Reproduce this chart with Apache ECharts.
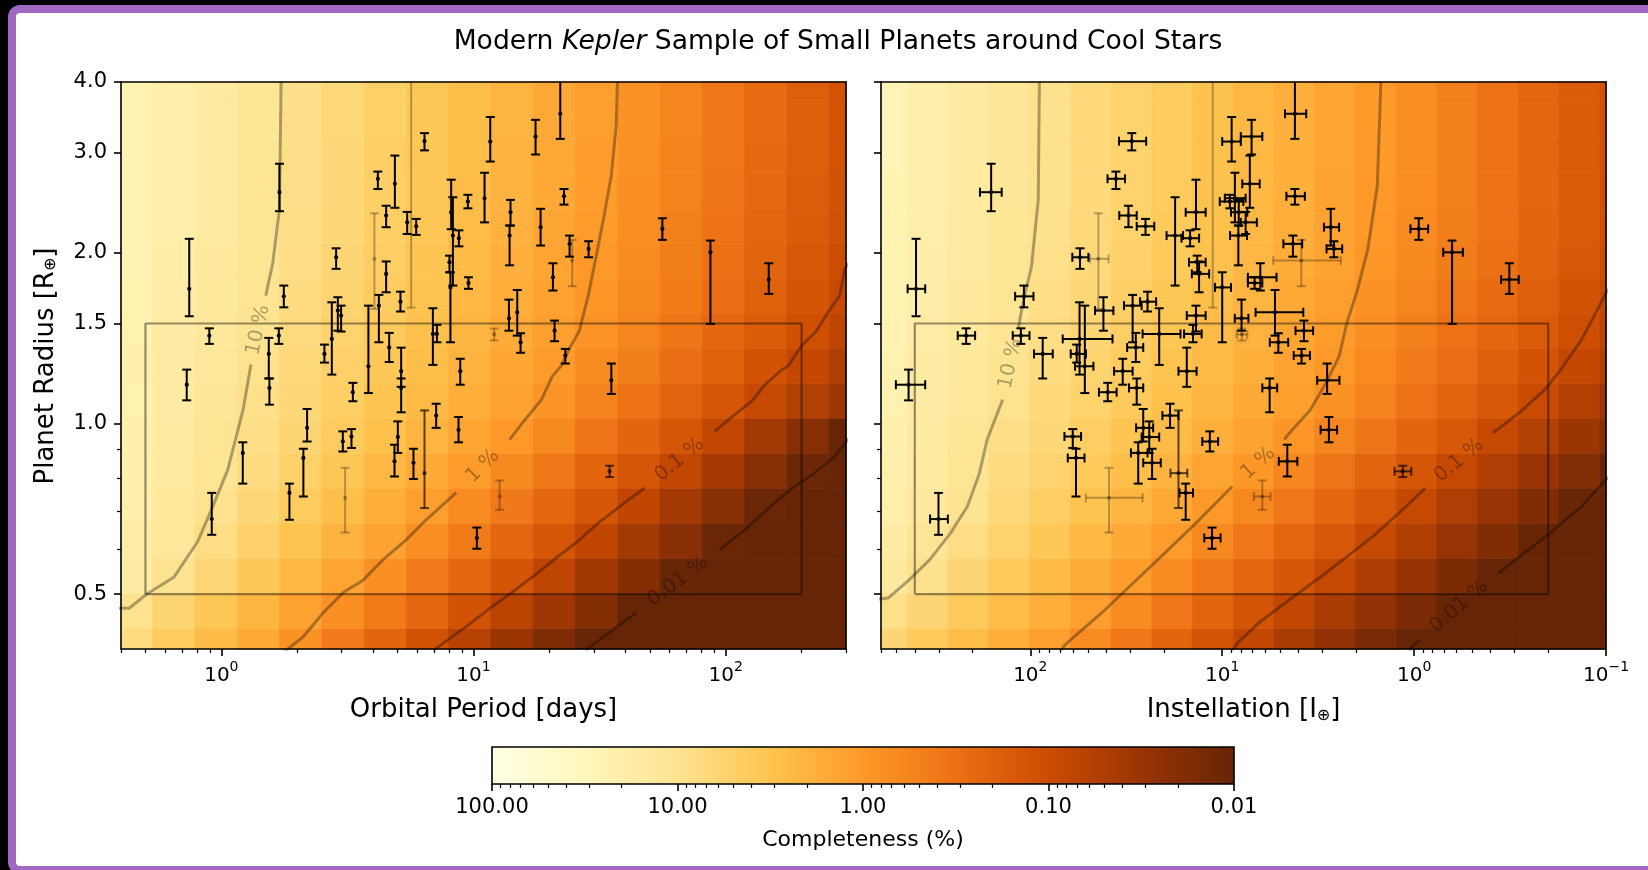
<!DOCTYPE html>
<html>
<head>
<meta charset="utf-8">
<script src="https://cdn.jsdelivr.net/npm/echarts@6.0.0/dist/echarts.min.js"></script>
<style>
html,body{margin:0;padding:0;width:1648px;height:870px;overflow:hidden;background:#000;}
#frame{position:absolute;left:8px;top:5px;width:1720px;height:853px;border:8px solid #a067c3;border-radius:12px;background:#fff;}
#chart{position:absolute;left:0;top:0;width:1648px;height:870px;}
</style>
</head>
<body>
<div id="frame"></div>
<div id="chart"></div>
<script>
// ===================== DATA =====================
// completeness grid bin edges
const periodEdges = [0.3635,0.5342,0.7858,1.1563,1.7014,2.5023,3.682,5.4162,7.9688,11.722,17.249,25.373,37.325,54.925,80.79,118.85,174.8,257.2,378.4];
const radiusEdges = [0.3776,0.4353,0.5018,0.5784,0.6667,0.7685,0.8859,1.0211,1.1771,1.3568,1.564,1.8028,2.0781,2.3954,2.7612,3.1829,3.6689,4.2292];
const instellationEdges = [711,436.5,268,164.4,100.7,61.8,37.9,23.3,14.29,8.75,5.37,3.30,2.023,1.239,0.760,0.467,0.286,0.176,0.1076,0.066];

// log10(completeness %) per cell, rows = radius bins (bottom -> top), cols = period bins
const completenessPeriod = [
 [0.87,0.64,0.40,0.17,-0.08,-0.36,-0.64,-0.92,-1.20,-1.48,-1.76,-2,-2,-2,-2,-2,-2,-2],
 [0.98,0.77,0.55,0.34,0.12,-0.11,-0.37,-0.63,-0.90,-1.17,-1.44,-1.72,-2,-2,-2,-2,-2,-2],
 [1.22,1.00,0.79,0.57,0.35,0.13,-0.11,-0.36,-0.61,-0.87,-1.14,-1.42,-1.70,-1.98,-2,-2,-2,-2],
 [1.26,1.10,0.91,0.71,0.50,0.30,0.10,-0.13,-0.37,-0.62,-0.86,-1.12,-1.40,-1.67,-1.95,-2,-2,-2],
 [1.29,1.14,0.99,0.80,0.61,0.43,0.24,0.06,-0.16,-0.39,-0.63,-0.86,-1.12,-1.40,-1.68,-1.96,-2,-2],
 [1.32,1.18,1.04,0.88,0.71,0.54,0.37,0.20,0.03,-0.19,-0.41,-0.64,-0.86,-1.11,-1.39,-1.66,-1.94,-2],
 [1.33,1.20,1.06,0.92,0.77,0.61,0.46,0.31,0.15,0.00,-0.21,-0.43,-0.64,-0.86,-1.10,-1.40,-1.69,-1.99],
 [1.34,1.21,1.08,0.95,0.81,0.67,0.52,0.38,0.24,0.10,-0.05,-0.26,-0.46,-0.66,-0.86,-1.06,-1.26,-1.46],
 [1.33,1.21,1.10,0.98,0.84,0.70,0.57,0.43,0.29,0.16,0.02,-0.16,-0.34,-0.53,-0.71,-0.90,-1.08,-1.27],
 [1.35,1.23,1.12,1.00,0.87,0.73,0.60,0.47,0.34,0.21,0.08,-0.07,-0.25,-0.43,-0.61,-0.78,-0.96,-1.14],
 [1.37,1.25,1.14,1.02,0.89,0.76,0.63,0.50,0.37,0.24,0.11,-0.03,-0.20,-0.37,-0.54,-0.71,-0.88,-1.04],
 [1.39,1.27,1.16,1.04,0.91,0.78,0.65,0.52,0.39,0.26,0.13,-0.01,-0.17,-0.34,-0.50,-0.67,-0.84,-1.00],
 [1.40,1.29,1.17,1.05,0.93,0.80,0.67,0.54,0.41,0.28,0.15,0.02,-0.14,-0.30,-0.46,-0.62,-0.78,-0.94],
 [1.41,1.29,1.18,1.06,0.94,0.81,0.68,0.55,0.42,0.29,0.17,0.04,-0.12,-0.28,-0.44,-0.60,-0.76,-0.92],
 [1.41,1.29,1.18,1.06,0.94,0.81,0.68,0.56,0.43,0.30,0.18,0.05,-0.10,-0.26,-0.42,-0.58,-0.74,-0.90],
 [1.41,1.30,1.18,1.07,0.94,0.82,0.69,0.56,0.44,0.31,0.19,0.06,-0.09,-0.25,-0.41,-0.57,-0.74,-0.90],
 [1.41,1.30,1.18,1.07,0.94,0.82,0.69,0.56,0.44,0.31,0.19,0.06,-0.08,-0.25,-0.41,-0.57,-0.74,-0.90]
];
// log10(completeness %) per cell, rows = radius bins, cols = instellation bins (high -> low)
const completenessInstellation = [
 [0.78,0.60,0.42,0.24,0.06,-0.16,-0.40,-0.64,-0.87,-1.11,-1.34,-1.57,-1.80,-2,-2,-2,-2,-2,-2],
 [0.95,0.78,0.60,0.42,0.24,0.06,-0.16,-0.40,-0.64,-0.89,-1.11,-1.34,-1.57,-1.80,-2,-2,-2,-2,-2],
 [1.15,0.97,0.78,0.59,0.40,0.22,0.04,-0.17,-0.40,-0.62,-0.85,-1.07,-1.31,-1.54,-1.78,-2,-2,-2,-2],
 [1.22,1.06,0.90,0.72,0.55,0.37,0.20,0.02,-0.19,-0.40,-0.62,-0.83,-1.05,-1.28,-1.52,-1.75,-1.99,-2,-2],
 [1.29,1.15,1.00,0.83,0.66,0.50,0.33,0.17,0.00,-0.21,-0.42,-0.63,-0.84,-1.06,-1.29,-1.52,-1.75,-1.98,-2],
 [1.31,1.18,1.04,0.89,0.74,0.59,0.44,0.29,0.13,-0.03,-0.23,-0.44,-0.65,-0.86,-1.07,-1.29,-1.52,-1.74,-1.97],
 [1.33,1.20,1.07,0.93,0.80,0.66,0.52,0.39,0.25,0.12,-0.04,-0.24,-0.44,-0.64,-0.84,-1.05,-1.26,-1.47,-1.68],
 [1.36,1.23,1.11,0.98,0.85,0.72,0.59,0.46,0.33,0.20,0.07,-0.09,-0.28,-0.47,-0.66,-0.84,-1.03,-1.25,-1.46],
 [1.35,1.23,1.12,1.00,0.88,0.75,0.63,0.50,0.38,0.25,0.12,0.00,-0.18,-0.36,-0.54,-0.72,-0.90,-1.08,-1.28],
 [1.38,1.26,1.14,1.03,0.90,0.78,0.65,0.53,0.40,0.28,0.15,0.03,-0.13,-0.30,-0.47,-0.63,-0.80,-0.97,-1.15],
 [1.39,1.28,1.16,1.05,0.92,0.80,0.68,0.56,0.44,0.31,0.19,0.06,-0.08,-0.24,-0.41,-0.57,-0.74,-0.90,-1.07],
 [1.40,1.28,1.17,1.06,0.95,0.83,0.71,0.59,0.47,0.35,0.22,0.10,-0.03,-0.19,-0.35,-0.52,-0.68,-0.84,-1.00],
 [1.40,1.29,1.18,1.07,0.96,0.84,0.72,0.60,0.48,0.36,0.24,0.11,-0.01,-0.17,-0.33,-0.48,-0.64,-0.80,-0.96],
 [1.41,1.30,1.19,1.08,0.96,0.85,0.73,0.61,0.49,0.37,0.25,0.12,0.00,-0.15,-0.31,-0.47,-0.63,-0.79,-0.95],
 [1.42,1.31,1.19,1.08,0.97,0.85,0.73,0.61,0.49,0.37,0.25,0.13,0.01,-0.14,-0.30,-0.46,-0.62,-0.78,-0.94],
 [1.42,1.31,1.19,1.08,0.97,0.85,0.73,0.61,0.49,0.37,0.25,0.13,0.01,-0.14,-0.30,-0.46,-0.62,-0.78,-0.94],
 [1.42,1.31,1.19,1.08,0.97,0.85,0.73,0.61,0.49,0.37,0.25,0.13,0.01,-0.14,-0.30,-0.46,-0.62,-0.78,-0.94]
];

// planets
const periods = [0.746,0.896,1.70,1.769,1.69,1.542,1.551,0.729,0.916,1.216,1.862,2.115,2.188,2.563,2.742,2.897,2.985,2.852,3.032,3.281,3.323,3.097,3.83,4.214,4.175,4.877,4.503,5.457,5.925,6.392,4.503,5.132,4.046,5.66,6.90,7.16,8.155,8.284,8.03,8.10,8.75,9.50,9.55,11.06,11.65,17.62,22.08,22.85,14.02,13.9,18.45,24.04,24.64,28.6,56.1,87.0,148.2,20.65,13.82,14.91,15.37,20.96,23.12,35.2,34.65,12.69,4.63,5.165,5.165,4.86,5.01,5.78,6.392,7.11,8.72,8.86,10.31,12.08];
const radii = [1.727,1.428,2.557,1.675,1.428,1.326,1.155,1.17,0.678,0.887,0.754,0.869,0.982,1.326,1.409,1.581,1.549,1.963,0.929,0.948,1.135,0.739,1.261,1.613,2.70,2.645,2.326,2.262,2.226,3.145,1.835,1.639,1.951,4.6,1.438,1.438,2.357,2.144,1.924,1.737,2.121,2.462,1.769,2.495,3.141,3.206,3.516,2.515,2.357,2.144,2.218,2.073,1.937,2.031,2.203,2.003,1.793,1.81,1.532,1.57,1.39,1.457,1.317,1.191,0.823,0.743,1.361,1.236,1.155,0.857,0.946,0.852,0.817,1.032,0.974,1.236,0.628,1.435];
const radiusLo = [1.545,1.381,2.367,1.602,1.381,1.20,1.079,1.098,0.636,0.783,0.676,0.743,0.929,1.28,1.219,1.457,1.452,1.873,0.892,0.905,1.094,0.642,1.131,1.39,2.59,2.40,2.218,2.158,2.15,3.03,1.703,1.575,1.592,1.60,1.268,1.39,2.20,1.75,1.847,1.39,2.052,2.395,1.727,2.262,2.896,2.98,3.175,2.431,2.233,1.90,2.059,1.968,1.745,1.963,2.107,1.498,1.692,1.715,1.457,1.428,1.332,1.396,1.275,1.127,0.804,0.704,1.283,1.16,1.046,0.806,0.887,0.798,0.709,0.982,0.926,1.17,0.601,1.40];
const radiusHi = [2.116,1.471,2.87,1.75,1.471,1.415,1.20,1.244,0.754,0.926,0.783,0.902,1.06,1.377,1.635,1.669,1.613,2.036,0.968,0.977,1.179,0.835,1.613,1.685,2.78,2.967,2.42,2.36,2.294,3.25,1.93,1.707,2.347,5.5,1.596,1.492,2.69,2.505,1.976,1.847,2.19,2.53,1.81,2.767,3.47,3.43,4.1,2.59,2.478,2.233,2.39,2.144,2.107,2.095,2.30,2.101,1.916,1.916,1.653,1.719,1.442,1.518,1.353,1.275,0.842,0.793,1.444,1.36,1.20,0.917,1.008,0.902,1.054,1.083,1.026,1.30,0.655,1.47];
const instellation = [394,216,160,108,112,86.2,27.9,431,301,27.4,15.5,57.8,25.8,57.3,55.4,41.6,13.7,55.1,11.6,60.1,39.5,38.9,52.0,29.3,35.8,7.18,30.8,7.55,25.1,29.6,13.2,24.5,44.2,11.2,21.3,14.2,13.7,17.6,13.5,10.0,14.7,9.12,6.78,8.59,8.93,7.03,4.18,4.18,8.2,8.24,2.72,4.28,3.87,2.62,0.946,0.634,0.319,6.33,7.93,5.31,5.10,3.75,3.86,2.84,1.146,6.18,28.2,15.3,5.66,4.58,24.0,23.2,16.9,18.7,2.78,33.0,11.3,7.9];
const instLo = [353,194,141,96.3,101,76.4,25.8,353,269,24.5,14.2,52.2,22.9,51.3,37.3,36.9,12.2,49.8,10.5,54.4,35.5,26.0,46.9,26.3,32.1,6.38,27.9,6.6,22.6,24.9,11.7,22.1,39.1,10,16.5,12.8,12.2,16.0,12.2,9.0,13.2,7.76,6.18,7.55,8.0,6.18,3.65,3.71,7.4,7.43,2.46,3.83,2.41,2.37,0.845,0.557,0.285,5.21,7.3,3.78,4.53,3.36,3.49,2.45,1.035,5.60,25.8,13.6,5.17,4.06,21.3,20.9,15.2,16.9,2.52,29.3,10.2,7.4];
const instHi = [436,239,183,120,123.5,95.7,30.6,502,333,29.9,16.7,63.8,28.1,61.6,67.8,46.0,15.3,60.4,12.7,66.4,43.9,51.4,58.5,32.5,39.6,7.86,34.4,8.0,27.9,34.5,14.4,26.8,48.9,12.5,26.0,15.8,15.5,19.5,14.9,10.9,16.3,10.3,7.35,9.69,10.0,8.0,4.71,4.63,9.0,9.1,2.95,4.80,5.42,2.86,1.045,0.705,0.352,7.35,8.6,6.70,5.65,4.15,4.24,3.20,1.265,6.84,31.3,16.9,6.18,5.07,26.3,25.8,18.6,20.5,3.07,36.6,12.4,8.4];
// 0 = confirmed, 1 = marginal, 2 = disputed
const status = [0,0,0,0,0,0,0,0,0,0,0,0,0,0,0,0,0,0,0,0,0,2,0,0,0,0,0,0,0,0,0,0,2,2,0,0,0,0,0,0,0,0,0,0,0,0,0,0,0,0,0,0,2,0,0,0,0,0,0,0,0,0,0,0,1,2,0,0,0,0,0,0,1,0,0,0,0,2];

// completeness contours [period, radius] / [instellation, radius]; each contour = [upper segment, lower segment]
const contourLevels = ['10 %','1 %','0.1 %','0.01 %'];
const left10 = [[[1.726,4.0],[1.70,2.39],[1.60,1.92],[1.50,1.68]],
  [[1.31,1.27],[1.22,1.057],[1.06,0.828],[0.925,0.714],[0.806,0.619],[0.65,0.536],[0.503,0.499],[0.431,0.472],[0.39,0.472]]];
const left1 = [[[37.2,4.0],[36.8,3.35],[35.2,2.74],[33.0,2.33],[30.7,1.98],[28.5,1.68],[26.3,1.457],[24.0,1.355],[22.3,1.264],[20.5,1.209],[18.6,1.101],[16.0,1.015],[13.9,0.936]],
  [[8.54,0.755],[6.49,0.676],[5.41,0.623],[4.38,0.575],[3.65,0.529],[3.04,0.503],[2.53,0.463],[2.11,0.42],[1.70,0.39]]];
const left01 = [[[320,1.96],[296.7,1.873],[283.3,1.68],[254.9,1.571],[229,1.455],[199.6,1.369],[176.8,1.262],[166.5,1.242],[142.8,1.169],[126.5,1.093],[108.6,1.036],[90.4,0.968]],
  [[47.7,0.769],[39.7,0.724],[31.2,0.667],[25.9,0.619],[21.6,0.582],[17.5,0.54],[14.1,0.502],[11.4,0.469],[9.35,0.438],[7.11,0.401],[6.8,0.39]]];
const left001 = [[[320,0.96],[301,0.929],[271,0.875],[225,0.817],[187.6,0.774],[161.4,0.733],[138.6,0.69],[119.1,0.649],[105.4,0.623],[94.6,0.597]],
  [[44.2,0.463],[38.6,0.444],[33.1,0.421],[28.4,0.401],[27.5,0.39]]];
const right10 = [[[89.7,4.0],[90.9,2.48],[98.6,1.89],[108.4,1.653],[115.4,1.473]],
  [[139.3,1.102],[167.8,0.936],[184.2,0.817],[212.6,0.714],[259.9,0.641],[334,0.575],[429.5,0.529],[551,0.492],[640,0.489]]];
const right1 = [[[1.49,4.0],[1.556,2.62],[1.742,2.03],[1.973,1.72],[2.24,1.504],[2.46,1.313],[2.88,1.178],[3.47,1.057],[4.46,0.962],[4.75,0.936]],
  [[8.87,0.774],[13.7,0.667],[20.0,0.59],[29.1,0.523],[42.5,0.463],[65.8,0.407],[72,0.39]]];
const right01 = [[[0.09,1.78],[0.1,1.699],[0.118,1.524],[0.134,1.405],[0.172,1.244],[0.208,1.147],[0.284,1.043],[0.388,0.962]],
  [[0.875,0.769],[1.197,0.695],[1.637,0.632],[2.24,0.582],[3.05,0.537],[4.45,0.489],[6.49,0.444],[8.32,0.41],[9.2,0.39]]];
const right001 = [[[0.09,0.82],[0.1,0.796],[0.134,0.714],[0.195,0.641],[0.267,0.59],[0.365,0.544]],
  [[0.931,0.415],[1.025,0.404],[1.08,0.39]]];

// sample box: period 0.5-200 d, instellation 400-0.2, radius 0.5-1.5
const boxPeriod = [0.5, 200];
const boxInstellation = [400, 0.2];
const boxRadius = [0.5, 1.5];

// tick values
const periodMajor = [1, 10, 100];
const periodMinor = [0.4,0.5,0.6,0.7,0.8,0.9,2,3,4,5,6,7,8,9,20,30,40,50,60,70,80,90,200,300];
const instMajor = [100, 10, 1, 0.1];
const instMinor = [0.2,0.3,0.4,0.5,0.6,0.7,0.8,0.9,2,3,4,5,6,7,8,9,20,30,40,50,60,70,80,90,200,300,400,500,600];
const radiusMajor = [0.5, 1.0, 1.5, 2.0, 3.0, 4.0];
const radiusMinor = [0.6, 0.7, 0.8, 0.9];
const complMajor = [100, 10, 1, 0.1, 0.01];
const complMinor = [0.02,0.03,0.04,0.05,0.06,0.07,0.08,0.09,0.2,0.3,0.4,0.5,0.6,0.7,0.8,0.9,2,3,4,5,6,7,8,9,20,30,40,50,60,70,80,90];

// ===================== RENDER =====================
const FONT = '"DejaVu Sans", sans-serif';
const YLORBR = [[255,255,229],[255,247,188],[254,227,145],[254,196,79],[254,153,41],[236,112,20],[204,76,2],[153,52,4],[102,37,6]];
function cmap(logc){
  let t = (2 - logc) / 4; t = Math.max(0, Math.min(1, t));
  const s = t * 8, i = Math.min(7, Math.floor(s)), f = s - i;
  const a = YLORBR[i], b = YLORBR[i+1];
  return 'rgb(' + [0,1,2].map(k => Math.round(a[k] + (b[k]-a[k])*f)).join(',') + ')';
}
function buildCells(xE, yE, grid){
  const out = [];
  for (let r = 0; r < grid.length; r++) for (let c = 0; c < grid[r].length; c++)
    out.push([xE[c], xE[c+1], yE[r], yE[r+1], grid[r][c]]);
  return out;
}
function renderCell(params, api){
  const p0 = api.coord([api.value(0), api.value(2)]);
  const p1 = api.coord([api.value(1), api.value(3)]);
  const cs = params.coordSys;
  const shape = echarts.graphic.clipRectByRect(
    {x: Math.min(p0[0],p1[0]), y: Math.min(p0[1],p1[1]), width: Math.abs(p1[0]-p0[0]), height: Math.abs(p1[1]-p0[1])},
    {x: cs.x, y: cs.y, width: cs.width, height: cs.height});
  if (!shape) return;
  const col = cmap(api.value(4));
  return {type:'rect', shape, style:{fill: col, stroke: col, lineWidth: 0.8}};
}
const OPAC = [1, 0.65, 0.28];
function errParts(cs, c, a, b, l, h, op, children){
  const top = cs.y, bot = cs.y + cs.height, lef = cs.x, rig = cs.x + cs.width;
  const cl = (v, lo, hi) => Math.max(lo, Math.min(hi, v));
  const st = {stroke:'#000', lineWidth: 2, opacity: op};
  const cap = 4.5;
  children.push({type:'line', shape:{x1:c[0], y1:cl(a[1],top,bot), x2:c[0], y2:cl(b[1],top,bot)}, style: st});
  [a[1], b[1]].forEach(y => { if (y >= top-0.5 && y <= bot+0.5) children.push({type:'line', shape:{x1:c[0]-cap, y1:y, x2:c[0]+cap, y2:y}, style: st}); });
  if (l && c[1] >= top && c[1] <= bot) {
    children.push({type:'line', shape:{x1:cl(l[0],lef,rig), y1:c[1], x2:cl(h[0],lef,rig), y2:c[1]}, style: st});
    [l[0], h[0]].forEach(x => { if (x >= lef && x <= rig) children.push({type:'line', shape:{x1:x, y1:c[1]-cap, x2:x, y2:c[1]+cap}, style: st}); });
  }
  if (c[1] >= top && c[1] <= bot) children.push({type:'circle', shape:{cx:c[0], cy:c[1], r: 2.1}, style:{fill:'#000', opacity: op}});
}
function renderErrLeft(params, api){
  const x = api.value(0), r = api.value(1);
  const c = api.coord([x, r]), a = api.coord([x, api.value(2)]), b = api.coord([x, api.value(3)]);
  const children = [];
  errParts(params.coordSys, c, a, b, null, null, OPAC[api.value(4)], children);
  return {type:'group', children};
}
function renderErrRight(params, api){
  const x = api.value(0), r = api.value(1);
  const c = api.coord([x, r]), a = api.coord([x, api.value(2)]), b = api.coord([x, api.value(3)]);
  const l = api.coord([api.value(4), r]), h = api.coord([api.value(5), r]);
  const children = [];
  errParts(params.coordSys, c, a, b, l, h, OPAC[api.value(6)], children);
  return {type:'group', children};
}
const CONTOUR_COLOR = 'rgba(0,0,0,0.32)';
function contourLines(list, xi, yi){
  const out = [];
  list.forEach(ct => ct.forEach(seg => out.push({
    type:'line', xAxisIndex:xi, yAxisIndex:yi, data: seg, symbol:'none', silent:true, z:3,
    lineStyle:{color: CONTOUR_COLOR, width: 3}, clip: true, animation:false
  })));
  return out;
}
function contourLabels(list, xi, yi){
  const data = list.map(ct => { const A = ct[0][ct[0].length-1], B = ct[1][0]; return [A[0], A[1], B[0], B[1]]; });
  return {
    type:'custom', xAxisIndex:xi, yAxisIndex:yi, data, z:4, silent:true,
    encode:{x:[0,2], y:[1,3]},
    renderItem(params, api){
      const a = api.coord([api.value(0), api.value(1)]), b = api.coord([api.value(2), api.value(3)]);
      const ang = Math.atan2(-(a[1]-b[1]), a[0]-b[0]);
      return {type:'text', x:(a[0]+b[0])/2, y:(a[1]+b[1])/2, rotation: ang,
        style:{text: contourLevels[params.dataIndex], fill: CONTOUR_COLOR, font: '20px ' + FONT, align:'center', verticalAlign:'middle'}};
    }
  };
}
function boxSeries(xs, xi, yi){
  return {type:'line', xAxisIndex:xi, yAxisIndex:yi, symbol:'none', silent:true, z:3,
    data:[[xs[0],boxRadius[0]],[xs[1],boxRadius[0]],[xs[1],boxRadius[1]],[xs[0],boxRadius[1]],[xs[0],boxRadius[0]]],
    lineStyle:{color:'rgba(0,0,0,0.42)', width:2.2}};
}

const LINE = {color:'#000', width:1.6};
const supRich = {
  b:{fontSize:20, fontFamily:FONT, color:'#000', lineHeight:26, verticalAlign:'bottom'},
  s:{fontSize:14, fontFamily:FONT, color:'#000', lineHeight:14, verticalAlign:'top'}
};
function supFmt(v){ const k = Math.round(Math.log10(v)); return '{b|10}{s|' + (k < 0 ? '\u2212' + (-k) : k) + '}'; }
function ax(type, grid, min, max, extra){
  return Object.assign({type, gridIndex:grid, min, max, logBase:10, z:10, silent:true,
    splitLine:{show:false}, minorTick:{show:false}, minorSplitLine:{show:false},
    axisLine:{show:false}, axisTick:{show:false}, axisLabel:{show:false}}, extra);
}
function major(ticks, pos, label){
  return {position:pos, axisLine:{show:true, onZero:false, lineStyle:LINE},
    axisTick:{show:true, inside:false, length:7, lineStyle:LINE, customValues:ticks},
    axisLabel: label ? Object.assign({show:true, customValues:ticks, color:'#000', fontFamily:FONT}, label) : {show:false}};
}
function minor(ticks, pos){
  return {position:pos, axisTick:{show:true, inside:false, length:4, lineStyle:{color:'#000', width:1.2}, customValues:ticks}};
}
function spine(pos){ return {position:pos, axisLine:{show:true, onZero:false, lineStyle:LINE}}; }

const xAxis = [
  ax('log', 0, 0.4, 300, major(periodMajor, 'bottom', {formatter:supFmt, rich:supRich, margin:11})),
  ax('log', 0, 0.4, 300, minor(periodMinor, 'bottom')),
  ax('log', 0, 0.4, 300, spine('top')),
  ax('log', 1, 0.1, 600, Object.assign({inverse:true}, major(instMajor, 'bottom', {formatter:supFmt, rich:supRich, margin:11}))),
  ax('log', 1, 0.1, 600, Object.assign({inverse:true}, minor(instMinor, 'bottom'))),
  ax('log', 1, 0.1, 600, Object.assign({inverse:true}, spine('top'))),
  ax('log', 2, 0.01, 100, Object.assign({inverse:true}, major(complMajor, 'bottom', {formatter: v => v.toFixed(2), fontSize:21, margin:13}), {axisLine:{show:false}})),
  ax('log', 2, 0.01, 100, Object.assign({inverse:true}, minor(complMinor, 'bottom')))
];
const yAxis = [
  ax('log', 0, 0.4, 4.0, major(radiusMajor, 'left', {formatter: v => v.toFixed(1), fontSize:21, margin:14})),
  ax('log', 0, 0.4, 4.0, minor(radiusMinor, 'left')),
  ax('log', 0, 0.4, 4.0, spine('right')),
  ax('log', 1, 0.4, 4.0, major(radiusMajor, 'left', null)),
  ax('log', 1, 0.4, 4.0, minor(radiusMinor, 'left')),
  ax('log', 1, 0.4, 4.0, spine('right')),
  ax('value', 2, 0, 1, {})
];

const leftErr = periods.map((p, i) => [p, radii[i], radiusLo[i], radiusHi[i], status[i]]);
const rightErr = instellation.map((p, i) => [p, radii[i], radiusLo[i], radiusHi[i], instLo[i], instHi[i], status[i]]);

const series = [
  {type:'custom', xAxisIndex:0, yAxisIndex:0, data: buildCells(periodEdges, radiusEdges, completenessPeriod), renderItem: renderCell, encode:{x:[0,1], y:[2,3]}, z:1, silent:true},
  {type:'custom', xAxisIndex:3, yAxisIndex:3, data: buildCells(instellationEdges, radiusEdges, completenessInstellation), renderItem: renderCell, encode:{x:[0,1], y:[2,3]}, z:1, silent:true},
  {type:'custom', xAxisIndex:6, yAxisIndex:6, data:[[100, 0.01]], encode:{x:[0,1]}, z:1, silent:true,
    renderItem(params, api){
      const p0 = api.coord([api.value(0), 0]), p1 = api.coord([api.value(1), 1]);
      const stops = YLORBR.map((c, i) => ({offset: i/8, color: 'rgb(' + c.join(',') + ')'}));
      return {type:'rect', shape:{x:p0[0], y:p1[1], width:p1[0]-p0[0], height:p0[1]-p1[1]},
        style:{fill: new echarts.graphic.LinearGradient(0,0,1,0, stops), stroke:'#000', lineWidth:1.6}};
    }},
  ...contourLines([left10, left1, left01, left001], 0, 0),
  ...contourLines([right10, right1, right01, right001], 3, 3),
  boxSeries(boxPeriod, 0, 0),
  boxSeries(boxInstellation, 3, 3),
  contourLabels([left10, left1, left01, left001], 0, 0),
  contourLabels([right10, right1, right01, right001], 3, 3),
  {type:'custom', xAxisIndex:0, yAxisIndex:0, data: leftErr, renderItem: renderErrLeft, encode:{x:0, y:[1,2,3]}, z:5, silent:true},
  {type:'custom', xAxisIndex:3, yAxisIndex:3, data: rightErr, renderItem: renderErrRight, encode:{x:[0,4,5], y:[1,2,3]}, z:5, silent:true}
];

const nameRich = {
  n:{fontSize:26, fontFamily:FONT, color:'#000', lineHeight:34, verticalAlign:'bottom'},
  sub:{fontSize:16, fontFamily:FONT, color:'#000', lineHeight:17, verticalAlign:'bottom'}
};
const graphic = [
  {type:'text', x:838, y:42, style:{text:'{n|Modern }{i|Kepler}{n| Sample of Small Planets around Cool Stars}', align:'center', verticalAlign:'middle',
    rich:{n:{fontSize:26.6, fontFamily:FONT, fill:'#000'}, i:{fontSize:26.6, fontFamily:FONT, fontStyle:'italic', fill:'#000'}}}},
  {type:'text', x:483.5, y:710, style:{text:'Orbital Period [days]', font:'26px ' + FONT, fill:'#000', align:'center', verticalAlign:'middle'}},
  {type:'text', x:1243.5, y:706.5, style:{text:'{n|Instellation [I}{sub|\u2295}{n|]}', align:'center', verticalAlign:'middle', rich:nameRich}},
  {type:'text', x:42, y:366, rotation:Math.PI/2, style:{text:'{n|Planet Radius [R}{sub|\u2295}{n|]}', align:'center', verticalAlign:'middle', rich:nameRich}},
  {type:'text', x:863, y:840, style:{text:'Completeness (%)', font:'22px ' + FONT, fill:'#000', align:'center', verticalAlign:'middle'}}
];

const chart = echarts.init(document.getElementById('chart'), null, {renderer:'canvas', width:1648, height:870});
chart.setOption({
  animation:false,
  backgroundColor:'transparent',
  textStyle:{fontFamily:FONT},
  grid:[
    {left:121, top:82, width:725, height:567, containLabel:false},
    {left:881, top:82, width:725, height:567, containLabel:false},
    {left:492, top:747, width:742, height:37, containLabel:false}
  ],
  xAxis, yAxis, series, graphic
});
</script>
</body>
</html>
